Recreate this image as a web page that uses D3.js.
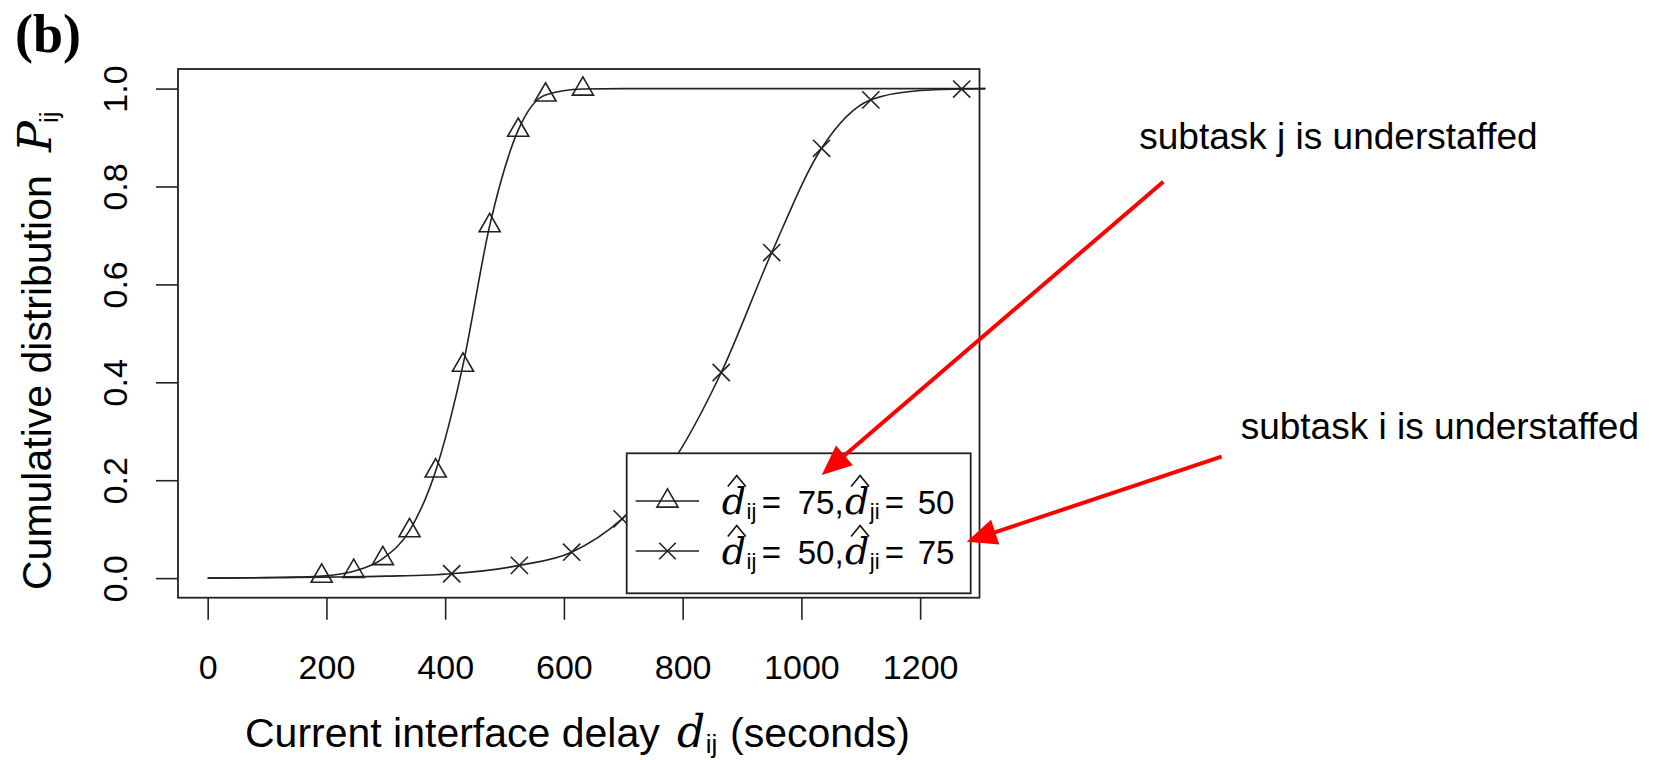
<!DOCTYPE html>
<html><head><meta charset="utf-8">
<script src="https://cdn.jsdelivr.net/npm/d3@7"></script>
<style>
html,body{margin:0;padding:0;background:#fff;}
svg{display:block;}
text{font-family:"Liberation Sans", Arial, sans-serif; fill:#000;}
</style></head><body>
<svg id="chart" width="1654" height="760"></svg>
<script>
// ---------------- data ----------------
const xTicks = [0, 200, 400, 600, 800, 1000, 1200];
const yTicks = [0.0, 0.2, 0.4, 0.6, 0.8, 1.0];

// markers, series 1 (triangles): d_ij = 75, d_ji = 50
const triX = [192, 246, 295, 340, 384, 430, 475, 523, 569, 632];
const triY = [0.004, 0.014, 0.040, 0.097, 0.219, 0.435, 0.720, 0.915, 0.987, 0.999];
// markers, series 2 (crosses): d_ij = 50, d_ji = 75
const crossX = [411, 525, 613, 698, 782, 865, 950, 1034, 1117, 1270];
const crossY = [0.009, 0.026, 0.053, 0.121, 0.235, 0.420, 0.665, 0.878, 0.977, 0.999];

// smooth curves underlying the markers
const curveTriX = [0, 100, 150, 192, 246, 295, 340, 384, 430, 475, 523, 569, 632, 700, 1310];
const curveTriY = [0.000, 0.001, 0.002, 0.004, 0.014, 0.040, 0.097, 0.219, 0.435, 0.720, 0.915, 0.987, 0.999, 1.000, 1.000];
const curveCrossX = [0, 200, 300, 411, 525, 613, 698, 782, 865, 950, 1034, 1117, 1200, 1270, 1310];
const curveCrossY = [0.000, 0.002, 0.004, 0.009, 0.026, 0.053, 0.121, 0.235, 0.420, 0.665, 0.878, 0.977, 0.996, 0.999, 1.000];

const legendIJ = ["75", "50"];
const legendJI = ["50", "75"];
const annotations = ["subtask j is understaffed", "subtask i is understaffed"];

// ---------------- layout ----------------
const svg = d3.select("#chart");
const box = {left: 178, top: 69, right: 979.5, bottom: 597.7};
const x = d3.scaleLinear().domain([-50, 1300]).range([box.left, box.right]);
const y = d3.scaleLinear().domain([-0.04, 1.04]).range([box.bottom, box.top]);
const ink = "#222";
const mathFont = "'DejaVu Serif', 'Liberation Serif', serif";

// panel label
svg.append("text").attr("x", 15).attr("y", 52)
  .style("font-family", "'Liberation Serif', 'Times New Roman', serif")
  .style("font-weight", "bold").style("font-size", "54px").text("(b)");

// curves
const line = d3.line().x(d => x(d[0])).y(d => y(d[1])).curve(d3.curveMonotoneX);
svg.append("path").datum(d3.zip(curveTriX, curveTriY))
  .attr("d", line).attr("fill", "none").attr("stroke", ink).attr("stroke-width", 1.6);
svg.append("path").datum(d3.zip(curveCrossX, curveCrossY))
  .attr("d", line).attr("fill", "none").attr("stroke", ink).attr("stroke-width", 1.6);

const triPath = r => `M0,${-r}L${0.866*r},${0.5*r}L${-0.866*r},${0.5*r}Z`;
const crossPath = h => `M${-h},${-h}L${h},${h}M${-h},${h}L${h},${-h}`;

svg.append("g").selectAll("path").data(d3.zip(triX, triY)).join("path")
  .attr("transform", d => `translate(${x(d[0])},${y(d[1])})`)
  .attr("d", triPath(12.2)).attr("fill", "none").attr("stroke", ink).attr("stroke-width", 1.6);
svg.append("g").selectAll("path").data(d3.zip(crossX, crossY)).join("path")
  .attr("transform", d => `translate(${x(d[0])},${y(d[1])})`)
  .attr("d", crossPath(8.6)).attr("fill", "none").attr("stroke", ink).attr("stroke-width", 1.6);

// axes
const xAxis = svg.append("g").attr("transform", `translate(0,${box.bottom})`)
  .call(d3.axisBottom(x).tickValues(xTicks).tickFormat(d3.format("d")).tickSize(22).tickPadding(35));
xAxis.select(".domain").remove();
xAxis.selectAll("line").attr("stroke", ink).attr("stroke-width", 1.6);
xAxis.selectAll("text").style("font-size", "34px").attr("fill", "#000")
  .style("font-family", "'Liberation Sans', Arial, sans-serif");

const yAxis = svg.append("g").attr("transform", `translate(${box.left},0)`)
  .call(d3.axisLeft(y).tickValues(yTicks).tickFormat(d3.format(".1f")).tickSize(22));
yAxis.select(".domain").remove();
yAxis.selectAll("line").attr("stroke", ink).attr("stroke-width", 1.6);
yAxis.selectAll("text").attr("x", null).attr("dy", null)
  .attr("transform", "translate(-51,0) rotate(-90)")
  .attr("text-anchor", "middle").style("font-size", "34px").attr("fill", "#000")
  .style("font-family", "'Liberation Sans', Arial, sans-serif");

// plot frame
svg.append("rect").attr("x", box.left).attr("y", box.top)
  .attr("width", box.right - box.left).attr("height", box.bottom - box.top)
  .attr("fill", "none").attr("stroke", ink).attr("stroke-width", 1.8);

// x title
const xt = svg.append("g").attr("transform", "translate(245,746.7)");
xt.append("text").attr("x", 0).style("font-size", "41px").text("Current interface delay");
const xd = xt.append("text").attr("x", 432).style("font-family", mathFont).style("font-style", "italic")
  .style("font-size", "44px").text("d");
const xdw = xd.node().getComputedTextLength();
xt.append("text").attr("x", 432 + xdw + 0.5).attr("y", 6).style("font-size", "26px").text("ij");
xt.append("text").attr("x", 485).style("font-size", "41px").text("(seconds)");

// y title
const yt = svg.append("g").attr("transform", "translate(51,590) rotate(-90)");
yt.append("text").attr("x", 0).style("font-size", "41px").text("Cumulative distribution");
const yp = yt.append("text").attr("x", 438).style("font-family", mathFont).style("font-style", "italic")
  .style("font-size", "46px").text("P");
const ypw = yp.node().getComputedTextLength();
yt.append("text").attr("x", 438 + ypw - 2).attr("y", 7).style("font-size", "26px").text("ij");

// legend
const lg = svg.append("g");
lg.append("rect").attr("x", 626.7).attr("y", 453.3).attr("width", 344).attr("height", 140)
  .attr("fill", "#fff").attr("stroke", ink).attr("stroke-width", 1.8);
const rows = [501, 551];
const shapes = [triPath(12.2), crossPath(8.3)];
rows.forEach((ry, i) => {
  lg.append("line").attr("x1", 635.7).attr("x2", 699).attr("y1", ry).attr("y2", ry)
    .attr("stroke", ink).attr("stroke-width", 1.6);
  lg.append("path").attr("transform", `translate(667.5,${ry})`).attr("d", shapes[i])
    .attr("fill", "none").attr("stroke", ink).attr("stroke-width", 1.6);
  const bl = ry + 12.5;
  const x0 = 721.7;
  const dHat = (dx, sub) => {
    const t = lg.append("text").attr("x", x0 + dx).attr("y", bl)
      .style("font-family", mathFont).style("font-style", "italic")
      .style("font-size", "38px").text("d");
    const w = t.node().getComputedTextLength();
    const cx = x0 + dx + w * 0.62, hy = bl - 27;
    lg.append("path").attr("d", `M${cx-9},${hy}Q${cx-4},${hy-6} ${cx},${hy-11}Q${cx+4},${hy-6} ${cx+9},${hy}`)
      .attr("fill", "none").attr("stroke", "#111").attr("stroke-width", 1.6);
    lg.append("text").attr("x", x0 + dx + w + 0.5).attr("y", bl + 5).style("font-size", "22px").text(sub);
  };
  dHat(0, "ij");
  lg.append("text").attr("x", x0 + 40).attr("y", bl).style("font-size", "33px").text("=");
  lg.append("text").attr("x", x0 + 76).attr("y", bl).style("font-size", "33px").text(legendIJ[i] + ",");
  dHat(123.3, "ji");
  lg.append("text").attr("x", x0 + 163).attr("y", bl).style("font-size", "33px").text("=");
  lg.append("text").attr("x", x0 + 196).attr("y", bl).style("font-size", "33px").text(legendJI[i]);
});

// annotations
svg.append("text").attr("x", 1139.3).attr("y", 149.3).style("font-size", "37px").text(annotations[0]);
svg.append("text").attr("x", 1240.7).attr("y", 439).style("font-size", "37px").text(annotations[1]);

const arrow = (x1, y1, x2, y2) => {
  const L = Math.hypot(x2 - x1, y2 - y1), ux = (x2 - x1) / L, uy = (y2 - y1) / L;
  const hl = 30, hw = 13;
  const bx = x2 - ux * hl, by = y2 - uy * hl;
  svg.append("line").attr("x1", x1).attr("y1", y1).attr("x2", bx + ux * 2).attr("y2", by + uy * 2)
    .attr("stroke", "#ff0000").attr("stroke-width", 4);
  svg.append("path").attr("d", `M${x2},${y2}L${bx - uy * hw},${by + ux * hw}L${bx + uy * hw},${by - ux * hw}Z`)
    .attr("fill", "#ff0000");
};
arrow(1163.3, 181.7, 821.7, 475);
arrow(1221.5, 456.7, 966.7, 541.7);
</script>
</body></html>
